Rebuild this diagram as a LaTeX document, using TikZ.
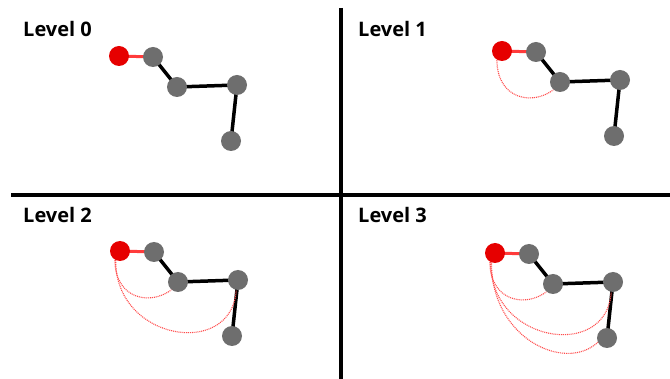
\documentclass[tikz,border=0pt]{standalone}
\usepackage{fontspec}
\setmainfont{Open Sans}
\usetikzlibrary{backgrounds}
\begin{document}
\begin{tikzpicture}[x=1pt,y=1pt,
  gnode/.style={circle,fill=nodegray,inner sep=0pt,minimum size=20pt},
  rnode/.style={circle,fill=nodered,inner sep=0pt,minimum size=20pt},
  bond/.style={line width=3.5pt,black},
  rbond/.style={line width=3pt,bondred},
  arcl/.style={line width=1.1pt,arcred,dash pattern=on 1pt off 0.9pt},
  divider/.style={line width=4.5pt,black},
  lbl/.style={anchor=base west,inner sep=0pt,font=\fontsize{20}{22}\bfseries}]
\definecolor{nodegray}{HTML}{6E6E6E}
\definecolor{nodered}{HTML}{E60000}
\definecolor{bondred}{HTML}{FF3B3B}
\definecolor{arcred}{HTML}{FF4D4D}
\useasboundingbox (0,0) rectangle (670,-379);
\begin{scope}[on background layer]
  \fill[white] (0,0) rectangle (670,-379);
\end{scope}
% dividers
\coordinate (vt) at (341,-8);
\coordinate (vb) at (341,-379);
\coordinate (hl) at (11,-195);
\coordinate (hr) at (670,-195);
\draw[divider] (vt) -- (vb);
\draw[divider] (hl) -- (hr);
% labels
\node[lbl] (l0) at (23,-37) {Level 0};
\node[lbl] (l1) at (358,-37) {Level 1};
\node[lbl] (l2) at (23,-223) {Level 2};
\node[lbl] (l3) at (358,-223) {Level 3};
% panels
\foreach \px/\py/\lev/\p in {119/56/0/a, 502/51/1/b, 120/251/2/c, 495/253/3/d}{
  \begin{scope}[shift={(\px,-\py)}]
    \node[rnode] (\p r) at (0,0) {};
    \node[gnode] (\p 1) at (34,-1) {};
    \node[gnode] (\p 2) at (58,-31) {};
    \node[gnode] (\p 3) at (118,-29) {};
    \node[gnode] (\p 4) at (112,-85) {};
    \begin{scope}[on background layer]
      \draw[rbond] (\p r.center) -- (\p 1.center);
      \draw[bond] (\p 1.center) -- (\p 2.center) -- (\p 3.center) -- (\p 4.center);
    \end{scope}
    \ifnum\lev>0
      \draw[arcl] (\p r.240) .. controls (-5,-48) and (30,-55) .. (\p 2.230);
    \fi
    \ifnum\lev>1
      \draw[arcl] (\p r.245) .. controls (-5,-90) and (112,-108) .. (\p 3.260);
    \fi
    \ifnum\lev>2
      \draw[arcl] (\p r.250) .. controls (-4,-85) and (70,-120) .. (\p 4.205);
    \fi
  \end{scope}
}
\end{tikzpicture}
\end{document}
